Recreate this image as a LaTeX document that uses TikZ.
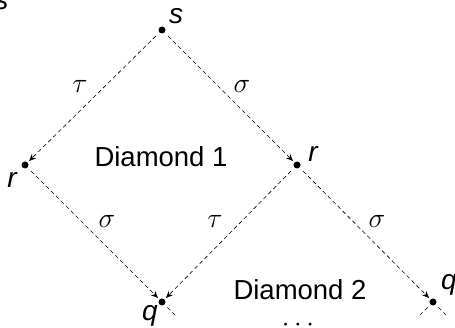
\RequirePackage{fix-cm}
\documentclass[tikz,border=0pt]{standalone}
\usepackage{fontspec}
\setmainfont{Liberation Sans}
\usetikzlibrary{arrows.meta}
\begin{document}
\begin{tikzpicture}[x=1pt,y=-1pt,
  pt/.style={circle,fill=black,inner sep=0pt,minimum size=7pt},
  edge/.style={dashed,dash pattern=on 4pt off 3pt,line width=0.6pt,-{Stealth[length=7pt,width=6pt]},shorten <=5pt,shorten >=2pt},
  stub/.style={dashed,dash pattern=on 4pt off 3pt,line width=0.6pt,shorten <=4pt},
  vlab/.style={font=\fontsize{28}{28}\selectfont\itshape,inner sep=0pt},
  glab/.style={font=\fontsize{28}{28}\selectfont,inner sep=0pt},
  dlab/.style={font=\fontsize{27.5}{27.5}\selectfont,inner sep=0pt}]
\useasboundingbox (0,0) rectangle (455,328);
\node[pt] (s) at (162,30) {};
\node[pt] (rL) at (25,165) {};
\node[pt] (rR) at (297,165) {};
\node[pt] (q) at (162,302) {};
\node[pt] (qR) at (433,302) {};
\coordinate (qs) at (176,316);
\coordinate (qRa) at (420,315);
\coordinate (qRb) at (446,315);
\draw[edge] (s) -- (rL);
\draw[edge] (s) -- (rR);
\draw[edge] (rL) -- (q);
\draw[edge] (rR) -- (q);
\draw[edge] (rR) -- (qR);
\draw[stub] (q) -- (qs);
\draw[stub] (qR) -- (qRa);
\draw[stub] (qR) -- (qRb);
\node[vlab] (ls) at (176,16) {s};
\node[vlab] (lrL) at (12,180) {r};
\node[vlab] (lrR) at (313,154) {r};
\node[vlab] (lq) at (150,316) {q};
\node[vlab] (lqR) at (449,285) {q};
\node[font=\fontsize{28}{28}\selectfont,inner sep=0pt] (s0) at (1,2) {s};
\node[glab] (t1) at (80,86) {$\tau$};
\node[glab] (s1) at (242,86) {$\sigma$};
\node[glab] (s2) at (107,221) {$\sigma$};
\node[glab] (t2) at (215,221) {$\tau$};
\node[glab] (s3) at (377,221) {$\sigma$};
\node[dlab] (d1) at (161,157) {Diamond 1};
\node[dlab] (d2) at (300,290) {Diamond 2};
\node[dlab] (dots) at (298,325) {$\cdots$};
\end{tikzpicture}
\end{document}
